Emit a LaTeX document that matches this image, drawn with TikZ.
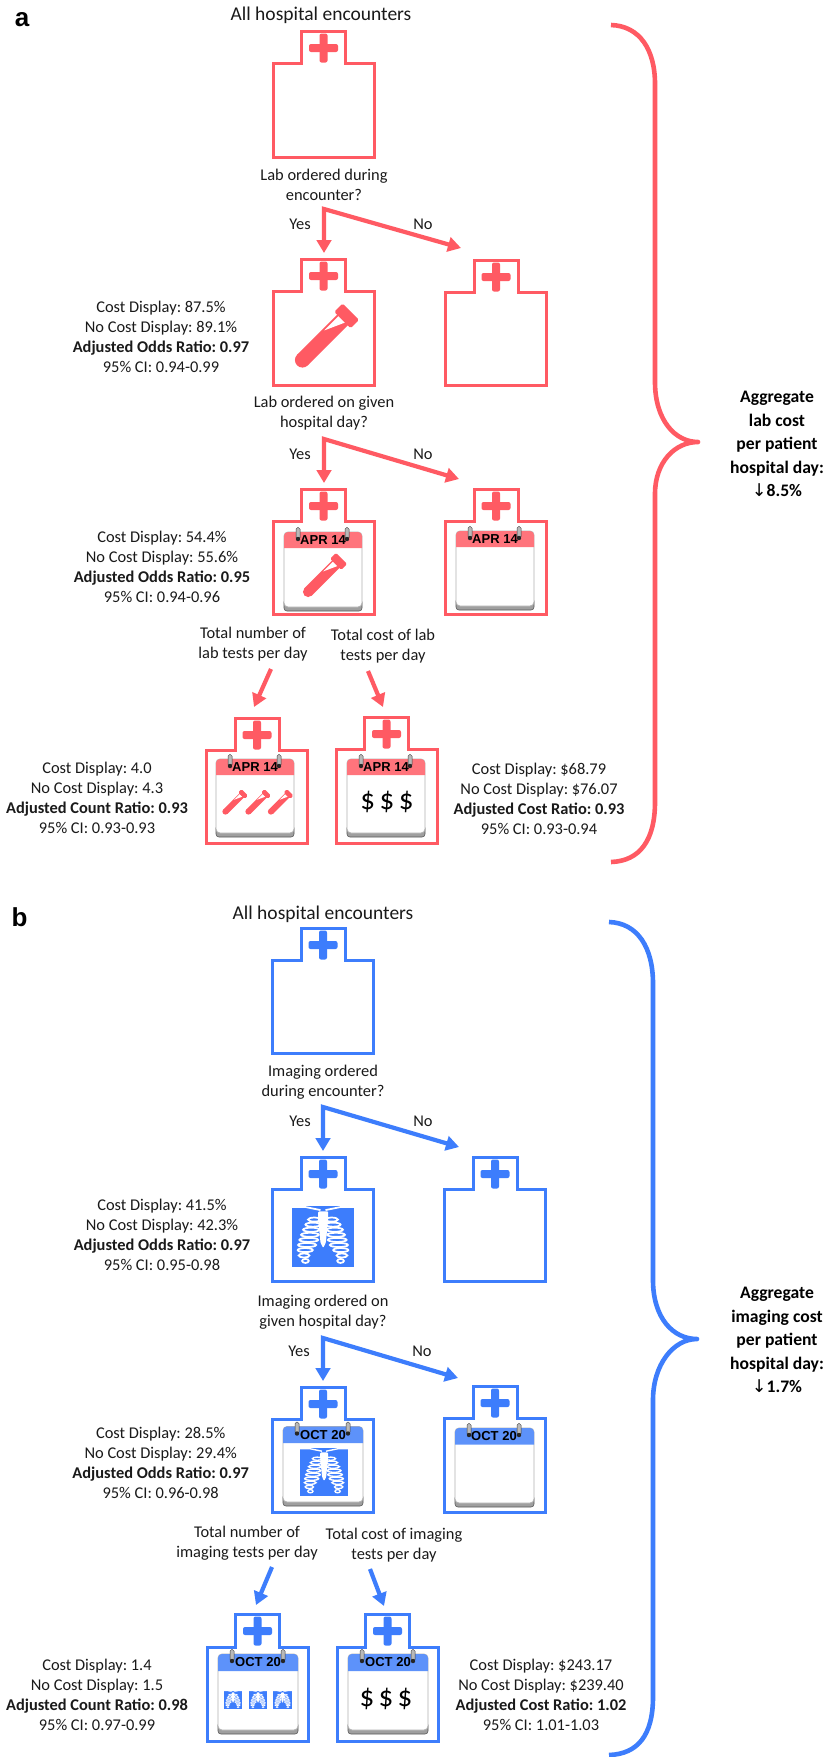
\documentclass[tikz,border=0pt]{standalone}
\usepackage{fontspec}
\setmainfont{Carlito}
\newfontfamily\arialf{Liberation Sans}
\newfontfamily\dejaf{DejaVu Sans}
\usetikzlibrary{arrows.meta}
\definecolor{labc}{HTML}{FF5A63}
\definecolor{labh}{HTML}{FF747C}
\definecolor{imgc}{HTML}{3D7DFC}
\definecolor{imgh}{HTML}{5D92FA}
\definecolor{ink}{HTML}{1A1A1A}
\frenchspacing
\tikzset{
  txt/.style={inner sep=0pt,align=center,text=ink,font=\fontsize{16.4}{20}\selectfont},
  head/.style={inner sep=0pt,text=ink,font=\fontsize{19.5}{22}\selectfont},
  agg/.style={inner sep=0pt,align=center,text=black,font=\fontsize{17.6}{23.5}\selectfont\bfseries},
  panel/.style={inner sep=0pt,text=black,font=\arialf\fontsize{26}{28}\selectfont\bfseries},
  calt/.style={inner sep=0pt,text=black,font=\arialf\fontsize{13}{14}\selectfont\bfseries},
  dollar/.style={inner sep=0pt,text=black,font=\fontsize{29}{30}\selectfont},
  flow/.style={line width=4.2pt,miter limit=20,
     arrows={Triangle[length=13pt,width=14.5pt]-Triangle[length=13pt,width=14.5pt]}},
  flowone/.style={line width=4.2pt,-{Triangle[length=13pt,width=14.5pt]}},
  bracel/.style={line width=4.6pt,line join=round}
}
% hospital outline: cx, top, body top, bottom, colour
\newcommand{\hosp}[5]{%
  \draw[#5,line width=3pt,line join=miter]
    (#1-22,#2+1) -- (#1+22,#2+1) -- (#1+22,#3+1) -- (#1+50.5,#3+1) -- (#1+50.5,#4-1)
    -- (#1-50.5,#4-1) -- (#1-50.5,#3+1) -- (#1-22,#3+1) -- cycle;
  \fill[#5,rounded corners=2pt] (#1-14.5,#2+14) rectangle (#1+14.5,#2+22);
  \fill[#5,rounded corners=2pt] (#1-4,#2+3.5) rectangle (#1+4,#2+32.5);
}
% calendar: x1,y1,x2,yh,y2,header colour
\newcommand{\calicon}[6]{%
  \fill[gray!75,draw=gray!70!black,line width=.6pt,rounded corners=3pt] (#1,#5-12) rectangle (#3,#5);
  \fill[white,draw=gray!60,line width=.8pt,rounded corners=4pt] (#1,#2) rectangle (#3,#5-4);
  \fill[#6,rounded corners=4pt] (#1,#4) -- (#1,#2) -- (#3,#2) [sharp corners] -- (#3,#4) -- cycle;
  \foreach \rx in {#1+14,#3-15}{
    \fill[gray!55,draw=gray!50!black,line width=.5pt,rounded corners=1.6pt] (\rx-2,#2-4.5) rectangle (\rx+2,#2+7);
    \fill[black!85] (\rx,#2+7) circle (2.2);
  }
}
% test tube: centre x, centre y, scale
\newcommand{\tube}[3]{%
  \begin{scope}[shift={(#1,#2)},rotate=45,scale=#3]
    \fill[labc] (-30.5,0) circle (7.5);
    \fill[labc] (-30.5,-7.5) rectangle (27,7.5);
    \fill[white] (6,-5.5) -- (26,-5.5) -- (26,3.5) -- cycle;
    \fill[labc,rounded corners=1.5pt] (26,-11.5) rectangle (38,11.5);
  \end{scope}
}
% chest x-ray: x1,y1,x2,y2
\newcommand{\xray}[4]{%
  \fill[imgc] (#1,#2) rectangle (#3,#4);
  \pgfmathsetmacro{\xrs}{(#3-#1)/185}
  \pgfmathsetmacro{\yrs}{(#4-#2)/180}
  \pgfmathsetmacro{\xlw}{5.2*\xrs}
  \begin{scope}[shift={(#1,#2)},xscale=\xrs,yscale=\yrs]
    \draw[white,line width=\xlw pt] (-1,3) -- (40,3) -- (85,12);
    \draw[white,line width=\xlw pt] (186,3) -- (145,3) -- (100,12);
    \foreach \yy/\xo/\xi in {40/48/85,55/40/85,70/33/82,85/27/80,100/22/78,115/18/72,130/17/62,146/20/52,162/30/50}{
      \draw[white,line width=\xlw pt] ({(\xo+\xi)/2},\yy) ellipse ({(\xi-\xo)/2} and 6);
      \draw[white,line width=\xlw pt] ({185-(\xo+\xi)/2},\yy) ellipse ({(\xi-\xo)/2} and 6);
    }
    \fill[white,rounded corners=1pt] (78,16) -- (108,16) -- (108,38) -- (101,108) -- (93,124) -- (85,108) -- (78,38) -- cycle;
  \end{scope}
}
\begin{document}
\begin{tikzpicture}[x=1pt,y=-1pt]
\useasboundingbox[fill=white] (0,0) rectangle (831,1757);

% ================= panel a =================
\node[panel] (pa) at (22,20) {a};
\node[head] (ah) at (321,15) {All hospital encounters};
\hosp{323.5}{30}{62}{158}{labc}
\node[txt] (aq1) at (324,185) {Lab ordered during\\encounter?};
\coordinate (aj1) at (324,209);
\coordinate (ay1) at (324,253);
\coordinate (an1) at (461,248);
\draw[flow,labc] (ay1) -- (aj1) -- (an1);
\node[txt] (ayl1) at (300,224) {Yes};
\node[txt] (anl1) at (423,224) {No};
\hosp{323.5}{258}{290}{386}{labc}
\hosp{496}{259}{291}{386}{labc}
\tube{324}{338.5}{1}
\node[txt] (as1) at (161,337) {Cost Display: 87.5\%\\No Cost Display: 89.1\%\\\textbf{Adjusted Odds Ratio: 0.97}\\95\% CI: 0.94-0.99};
\node[txt] (aq2) at (324,413.5) {Lab ordered on given\\hospital day?};
\coordinate (aj2) at (324,439);
\coordinate (ay2) at (324,483);
\coordinate (an2) at (459,479);
\draw[flow,labc] (ay2) -- (aj2) -- (an2);
\node[txt] (ayl2) at (300,454) {Yes};
\node[txt] (anl2) at (423,454) {No};
\hosp{323.5}{488}{520}{615}{labc}
\hosp{496}{488}{520}{615}{labc}
\calicon{284}{532}{362}{548}{611}{labh}
\node[calt] (ac1) at (323,540) {APR 14};
\tube{323}{577}{0.69}
\calicon{456}{531}{534}{547}{610}{labh}
\node[calt] (ac2) at (495,539) {APR 14};
\node[txt] (as2) at (162,566.5) {Cost Display: 54.4\%\\No Cost Display: 55.6\%\\\textbf{Adjusted Odds Ratio: 0.95}\\95\% CI: 0.94-0.96};
\node[txt] (aq3) at (253,644.5) {Total number of\\lab tests per day};
\node[txt] (aq4) at (383,646.5) {Total cost of lab\\tests per day};
\coordinate (af3) at (271,669);
\coordinate (at3) at (254,707);
\coordinate (af4) at (368,671);
\coordinate (at4) at (383,707);
\draw[flowone,labc] (af3) -- (at3);
\draw[flowone,labc] (af4) -- (at4);
\hosp{257}{717}{749}{844}{labc}
\hosp{386.5}{716}{748}{844}{labc}
\calicon{216}{759}{294}{775}{837}{labh}
\node[calt] (ac3) at (255,767) {APR 14};
\tube{234}{803}{0.4}
\tube{257}{803}{0.4}
\tube{279.5}{803}{0.4}
\calicon{347}{759}{425}{775}{837}{labh}
\node[calt] (ac4) at (386,767) {APR 14};
\node[dollar] (ad1) at (367.7,802) {\$};
\node[dollar] (ad2) at (387,802) {\$};
\node[dollar] (ad3) at (406.3,802) {\$};
\node[txt] (as3) at (97,798) {Cost Display: 4.0\\No Cost Display: 4.3\\\textbf{Adjusted Count Ratio: 0.93}\\95\% CI: 0.93-0.93};
\node[txt] (as4) at (539,799) {Cost Display: \$68.79\\No Cost Display: \$76.07\\\textbf{Adjusted Cost Ratio: 0.93}\\95\% CI: 0.93-0.94};
\draw[bracel,labc] (611,25) .. controls (640,26) and (655,50) .. (655,84) -- (655,382)
  .. controls (655,420) and (675,442) .. (698,442) .. controls (675,442) and (655,462) .. (655,494)
  -- (655,802) .. controls (655,840) and (640,861) .. (611,862);
\node[agg] (aa) at (777,444) {Aggregate\\lab cost\\per patient\\hospital day:\\{\dejaf\mdseries ↓}8.5\%};

% ================= panel b =================
\node[panel] (pb) at (19.5,917) {b};
\node[head] (bh) at (323,914) {All hospital encounters};
\hosp{323}{927}{959}{1054}{imgc}
\node[txt] (bq1) at (323,1082) {Imaging ordered\\during encounter?};
\coordinate (bj1) at (323,1107);
\coordinate (by1) at (323,1151);
\coordinate (bn1) at (459,1147);
\draw[flow,imgc] (by1) -- (bj1) -- (bn1);
\node[txt] (byl1) at (300,1121) {Yes};
\node[txt] (bnl1) at (423,1121) {No};
\hosp{323}{1156}{1188}{1282}{imgc}
\hosp{495}{1156}{1188}{1282}{imgc}
\xray{292}{1206}{354}{1267}
\node[txt] (bs1) at (162,1234.5) {Cost Display: 41.5\%\\No Cost Display: 42.3\%\\\textbf{Adjusted Odds Ratio: 0.97}\\95\% CI: 0.95-0.98};
\node[txt] (bq2) at (323,1312) {Imaging ordered on\\given hospital day?};
\coordinate (bj2) at (323,1338);
\coordinate (by2) at (323,1381);
\coordinate (bn2) at (458,1378);
\draw[flow,imgc] (by2) -- (bj2) -- (bn2);
\node[txt] (byl2) at (299,1351) {Yes};
\node[txt] (bnl2) at (422,1351) {No};
\hosp{323}{1386}{1418}{1513}{imgc}
\hosp{495}{1385}{1417}{1513}{imgc}
\calicon{283}{1426.5}{363}{1443}{1506}{imgh}
\node[calt] (bc1) at (323,1435) {OCT 20};
\xray{300}{1448}{348}{1496}
\calicon{455}{1428}{534}{1444.5}{1507}{imgh}
\node[calt] (bc2) at (494,1436) {OCT 20};
\node[txt] (bs2) at (160.7,1463) {Cost Display: 28.5\%\\No Cost Display: 29.4\%\\\textbf{Adjusted Odds Ratio: 0.97}\\95\% CI: 0.96-0.98};
\node[txt] (bq3) at (247,1543) {Total number of\\imaging tests per day};
\node[txt] (bq4) at (394,1545) {Total cost of imaging\\tests per day};
\coordinate (bf3) at (272,1567);
\coordinate (bt3) at (256,1605);
\coordinate (bf4) at (370,1569);
\coordinate (bt4) at (384,1606);
\draw[flowone,imgc] (bf3) -- (bt3);
\draw[flowone,imgc] (bf4) -- (bt4);
\hosp{257.5}{1613}{1646}{1742}{imgc}
\hosp{387.5}{1613}{1646}{1742}{imgc}
\calicon{218}{1654}{298}{1671}{1734}{imgh}
\node[calt] (bc3) at (258,1662) {OCT 20};
\xray{224}{1690.6}{242}{1709}
\xray{249}{1690.6}{267}{1709}
\xray{273}{1690.6}{292}{1709}
\calicon{348}{1654}{428}{1671}{1734}{imgh}
\node[calt] (bc4) at (388,1662) {OCT 20};
\node[dollar] (bd1) at (367,1699) {\$};
\node[dollar] (bd2) at (386,1699) {\$};
\node[dollar] (bd3) at (405,1699) {\$};
\node[txt] (bs3) at (97,1694.5) {Cost Display: 1.4\\No Cost Display: 1.5\\\textbf{Adjusted Count Ratio: 0.98}\\95\% CI: 0.97-0.99};
\node[txt] (bs4) at (541,1694.5) {Cost Display: \$243.17\\No Cost Display: \$239.40\\\textbf{Adjusted Cost Ratio: 1.02}\\95\% CI: 1.01-1.03};
\draw[bracel,imgc] (609,922) .. controls (638,923) and (653,948) .. (653,983.5) -- (653,1280)
  .. controls (653,1318) and (673,1339) .. (697,1339) .. controls (673,1339) and (653,1365) .. (653,1400)
  -- (653,1697) .. controls (653,1735) and (638,1754) .. (609,1755);
\node[agg] (ba) at (777,1340) {Aggregate\\imaging cost\\per patient\\hospital day:\\{\dejaf\mdseries ↓}1.7\%};
\end{tikzpicture}
\end{document}
